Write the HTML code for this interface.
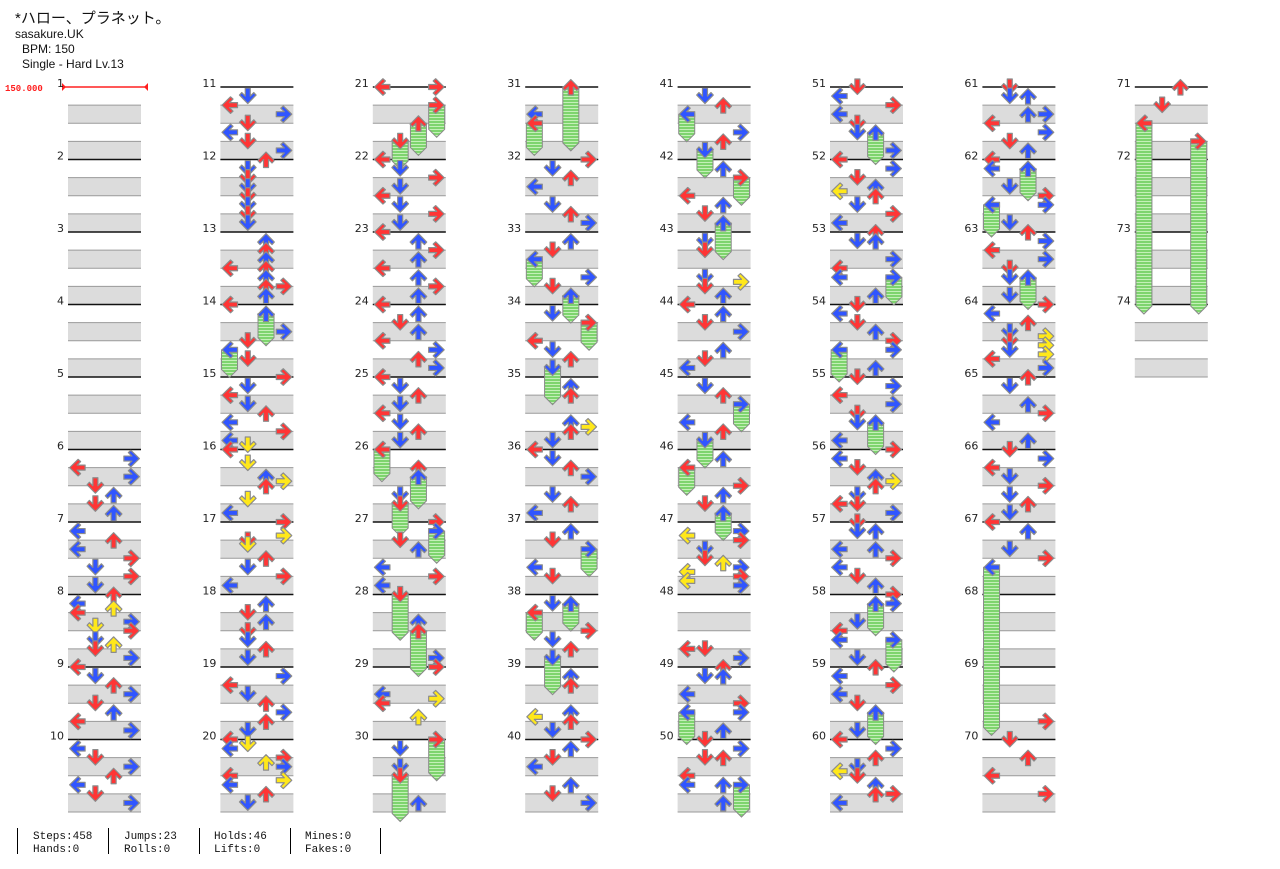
<!DOCTYPE html>
<html><head><meta charset="utf-8">
<style>
html,body{margin:0;padding:0;background:#fff;width:1280px;height:869px;overflow:hidden}
svg{display:block}
.hdr{font-family:"Liberation Sans","Noto Sans CJK JP",sans-serif;fill:#111}
.lbl{font-family:"DejaVu Sans","Liberation Sans",sans-serif;font-size:11px;fill:#222}
.ft{font-family:"Liberation Mono","DejaVu Sans Mono",monospace;font-size:11px;fill:#111}
</style></head>
<body>
<svg id="chart" width="1280" height="869" xmlns="http://www.w3.org/2000/svg">
<defs>
<pattern id="holdPat" width="4" height="3" patternUnits="userSpaceOnUse">
<rect width="4" height="3" fill="#7ed46e"/><rect width="4" height="1" fill="#c4f0b8"/>
</pattern>
</defs>
<text class="hdr" x="15" y="23" font-size="15">*ハロー、プラネット。</text>
<text class="hdr" x="15" y="38" font-size="12">sasakure.UK</text>
<text class="hdr" x="22" y="53" font-size="12">BPM: 150</text>
<text class="hdr" x="22" y="68" font-size="12">Single - Hard  Lv.13</text>
<text x="5" y="91" font-family="Liberation Mono,monospace" font-size="9" font-weight="bold" fill="#ff2020">150.000</text>
<g id="grid"></g>
<g id="holds"></g>
<g id="notes"></g>
<g>
<line x1="17.5" y1="828" x2="17.5" y2="854" stroke="#000"/>
<line x1="108.5" y1="828" x2="108.5" y2="854" stroke="#000"/>
<line x1="199.5" y1="828" x2="199.5" y2="854" stroke="#000"/>
<line x1="290.5" y1="828" x2="290.5" y2="854" stroke="#000"/>
<line x1="380.5" y1="828" x2="380.5" y2="854" stroke="#000"/>
<text class="ft" x="33" y="839">Steps:458</text>
<text class="ft" x="33" y="852">Hands:0</text>
<text class="ft" x="124" y="839">Jumps:23</text>
<text class="ft" x="124" y="852">Rolls:0</text>
<text class="ft" x="214" y="839">Holds:46</text>
<text class="ft" x="214" y="852">Lifts:0</text>
<text class="ft" x="305" y="839">Mines:0</text>
<text class="ft" x="305" y="852">Fakes:0</text>
</g>
</svg>
<script>
// Each entry: measure notes "pos16:lane[:holdLen16]"; lanes 0=L 1=D 2=U 3=R
const measureNotes = [
"","","","","",
"2:3 4:0 6:3 8:1 10:2 12:1 14:2",
"2:0 4:2 6:0 8:3 10:1 12:3 14:1",
"0:2 2:0 3:2 4:0 6:3 7:1 8:3 10:1 11:2 12:1 14:3",
"0:0 2:1 4:2 6:3 8:1 10:2 12:0 14:3",
"2:0 4:1 6:3 8:2 10:0 12:1 14:3",
"2:1 4:0 6:3 8:1 10:0 12:1 14:3",
"0:2 2:1 4:1 6:1 8:1 10:1 12:1 14:1",
"2:2 4:2 6:2 8:0 8:2 10:2 12:3 12:2 14:2",
"0:0 2:2:6 6:3 8:1 10:0:5 12:1",
"0:3 2:1 4:0 6:1 8:2 10:0 12:3 14:0 15:1",
"0:0 3:1 6:2 7:3 8:2 11:1 14:0",
"0:3 3:3 4:1 5:1 8:2 10:1 12:3 14:0",
"2:2 4:1 6:2 8:1 10:1 12:2 14:1",
"2:3 4:0 6:1 8:2 10:3 12:2 14:1",
"0:0 1:1 2:0 4:3 5:2 6:3 8:0 9:3 10:0 12:2 14:1",
"0:0 0:3 4:3:6 8:2:6 12:1:5",
"0:0 2:1 4:3 6:1 8:0 10:1 12:3 14:1",
"0:0 2:2 4:3 6:2 8:0 10:2 12:3 14:2",
"0:0 2:2 4:1 6:2 8:0 10:3 12:2 14:3",
"0:0 2:1 4:2 6:1 8:0 10:1 12:2 14:1",
"0:0:6 4:2 6:2:6 10:1 12:1:6",
"0:3 2:3:6 4:1 6:2 10:0 12:3 14:0",
"0:1:9 6:2 8:2:9 14:3",
"0:3 6:0 7:3 8:0 11:2",
"0:3:8 2:1 6:1 8:1:9 14:2",
"0:2:13 6:0 8:0:6",
"0:3 2:1 4:2 6:0 10:1 12:2 14:3",
"2:2 4:1 6:0:5 10:3 12:1 14:2:5",
"2:1 4:3:5 8:0 10:1 12:2 14:1:7",
"2:2 4:2 10:2 11:3 12:2 14:1",
"0:0 2:1 4:2 6:3 10:1 12:2 14:0",
"2:2 4:1 6:3:5 10:0 12:1",
"2:1 2:2:5 4:0:5 8:3 10:1 12:2 14:1:7",
"2:2 4:2 10:2 11:0 12:2 14:1",
"0:3 2:2 4:1 6:0 10:2 12:1 14:3",
"2:1 4:2 6:0:5 10:3 12:2 14:1:5",
"2:2 4:3:5 8:0 10:2 12:1 14:2:7",
"2:1 4:1 10:1 11:3 12:1 14:2",
"0:0 2:2 4:1 6:3 10:2 12:1 14:0",
"2:1 4:2 6:3:5 10:0 12:2 14:1:5",
"2:2 4:0:5 8:3 10:2 12:1 14:2:5",
"2:3 3:0 4:3 6:1 8:1 9:2 10:3 11:0 12:3 13:0 14:3",
"12:0 12:1 14:3",
"0:2 2:1 2:2 6:0 8:3 10:0:6 10:3 14:2",
"0:1 2:3 4:1 4:2 8:0 10:0 10:2 10:3:6 14:2",
"0:1 2:0 4:3 6:0 8:1 10:1 10:2:6 14:3",
"0:0 2:3 4:1 6:2 7:0 8:2 10:1 12:3 14:0",
"0:2 2:1 2:2 6:3 8:0 10:0 10:3:5 14:2",
"0:1 2:0 4:1 6:2 8:3 10:3 10:0:6 14:2",
"0:1 2:3 4:0 6:3 8:1 10:1 10:2:6 14:0",
"0:3 2:0 4:1 6:2 7:3 8:2 10:1 12:0 12:1 14:3",
"0:1 2:1 2:2 6:0 6:2 8:3 10:0 12:1 14:2",
"0:3 2:2:6 2:3 6:1 8:0 10:0 10:3:6 14:1",
"0:2 2:0 4:3 6:0 8:1 10:2:6 14:1",
"0:0 2:3 4:2 6:1 7:0 8:1 10:2 12:2 12:3 14:0",
"0:1 2:1 2:2 6:2 6:3 8:0 10:3 12:1 14:2",
"0:0 2:0 2:2:6 6:1 8:3 10:3 10:0:6 14:1",
"0:2 2:3 4:0 6:3 8:1 10:1 10:2:6 14:1",
"0:3 2:0 4:2 6:1 7:3 8:1 9:3 10:1 11:3 12:0 14:3",
"0:2 2:1 6:2 8:3 10:0 14:2",
"0:1 2:3 4:0 6:1 8:3 10:1 12:2 14:1",
"0:0 2:2 6:1 8:3 10:0:36",
"",
"12:3",
"0:1 4:2 8:0 12:3",
"0:2 4:1 8:0:41 12:3:37",
"","",""
];
const totalMeasures = 74;
const measuresPerColumn = 10;

const NS = "http://www.w3.org/2000/svg";
const COL_X0 = 68, COL_STEP = 152.4, COL_W = 73, TOP = 87, MH = 72.5;
const LANE_W = COL_W / 4;
function colX(m){ return COL_X0 + Math.floor((m-1)/measuresPerColumn)*COL_STEP; }
function measY(m){ return TOP + ((m-1)%measuresPerColumn)*MH; }
function noteY(m,pos){ return measY(m) + pos*MH/16; }
function laneX(m,lane){ return colX(m) + LANE_W*(lane+0.5); }
function mk(tag, attrs, parent){ const e=document.createElementNS(NS,tag); for(const k in attrs) e.setAttribute(k,attrs[k]); parent.appendChild(e); return e; }

const grid = document.getElementById('grid');
for(let m=1;m<=totalMeasures;m++){
  const x=colX(m), y=measY(m);
  const g=mk('g',{},grid);
  
  
  [1,3].forEach(b=>{
    mk('rect',{x:x,y:y+b*MH/4,width:COL_W,height:MH/4,fill:'#dcdcdc'},g);
    mk('line',{x1:x,x2:x+COL_W,y1:y+b*MH/4,y2:y+b*MH/4,stroke:'#9a9a9a','stroke-width':1},g);
    mk('line',{x1:x,x2:x+COL_W,y1:y+(b+1)*MH/4,y2:y+(b+1)*MH/4,stroke:'#9a9a9a','stroke-width':1},g);
  });
  if(m===1){
    mk('line',{x1:62,x2:148,y1:y,y2:y,stroke:'#ff2020','stroke-width':1.5},g);
    mk('polygon',{points:`62,${y-4} 66,${y} 62,${y+4}`,fill:'#ff2020'},g);
    mk('polygon',{points:`148,${y-4} 144,${y} 148,${y+4}`,fill:'#ff2020'},g);
  } else {
    mk('line',{x1:x,x2:x+COL_W,y1:y,y2:y,stroke:'#111','stroke-width':1.5},g);
  }
  const t=mk('text',{x:x-4,y:y,'text-anchor':'end',class:'lbl'},g);
  t.textContent=String(m);
}

const ARROW="M-2.5,-8 L2.5,-8 L2.5,0 L6,-3.5 L8.3,-1 L0,7.5 L-8.3,-1 L-6,-3.5 L-2.5,0 Z";
const ROT=[90,0,180,-90];
function colorFor(pos){ return pos%4===0?'#ff3535':(pos%2===0?'#3055ff':'#ffe81a'); }
const holdsG=document.getElementById('holds'), notesG=document.getElementById('notes');
measureNotes.forEach((s,i)=>{
  const m=i+1;
  if(!s) return;
  s.split(' ').forEach(tok=>{
    const p=tok.split(':').map(Number);
    const pos=p[0], lane=p[1], hl=p[2]||0;
    const cx=laneX(m,lane), cy=noteY(m,pos);
    if(hl>0){
      const ey=cy+hl*MH/16;
      const h=mk('polygon',{points:`${cx-8},${cy} ${cx+8},${cy} ${cx+8},${ey-3} ${cx},${ey+5} ${cx-8},${ey-3}`,fill:'url(#holdPat)',stroke:'#8a8a8a','stroke-width':1},holdsG);
      
      
    }
    const a=mk('path',{d:ARROW,transform:`translate(${cx},${cy}) rotate(${ROT[lane]})`,fill:colorFor(pos),stroke:'#8c8c8c','stroke-width':1.2,'stroke-linejoin':'round'},notesG);
    
    
  });
});
</script>
</body></html>
